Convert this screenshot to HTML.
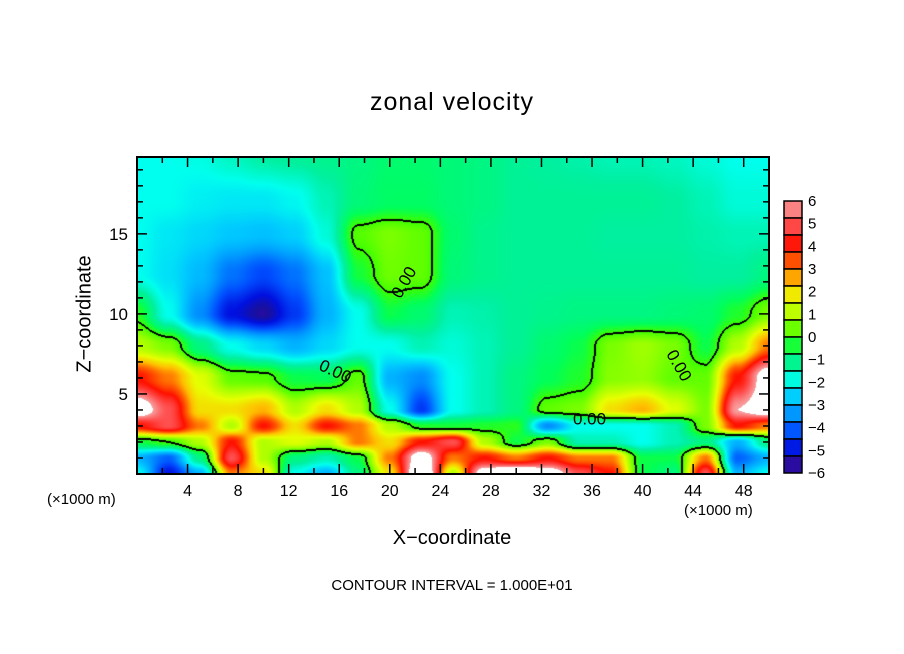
<!DOCTYPE html>
<html><head><meta charset="utf-8">
<style>
body{margin:0;background:#fff;width:904px;height:654px;overflow:hidden;position:relative;font-family:"Liberation Sans",sans-serif;}
.t{position:absolute;color:#000;white-space:nowrap;}
</style></head><body>
<div class="t" style="left:0;width:904px;top:88px;text-align:center;font-size:25px;letter-spacing:1px;">zonal velocity</div>
<div class="t" style="left:85px;top:314px;font-size:20px;transform:translate(-50%,-50%) rotate(-90deg);">Z−coordinate</div>
<div class="t" style="left:0;width:904px;top:527px;text-align:center;font-size:20px;">X−coordinate</div>
<div class="t" style="left:47px;top:491px;font-size:15px;">(×1000 m)</div>
<div class="t" style="left:684px;top:502px;font-size:15px;">(×1000 m)</div>
<div class="t" style="left:0;width:904px;top:577px;text-align:center;font-size:15px;">CONTOUR INTERVAL = 1.000E+01</div>
<canvas id="cv" width="632" height="317" style="position:absolute;left:137px;top:157px;"></canvas>
<svg id="sv" width="904" height="654" style="position:absolute;left:0;top:0;"></svg>
<script>
const xLevels=[0,2.5,5,7.5,10,12.5,15,17.5,20,22.5,25,27.5,30,32.5,35,37.5,40,42.5,45,47.5,50];
const zLevels=[20,17,15,12.5,10,8,6,4,3,2,1,0];
const field=[
[-2,-2,-1.9,-1.6,-1.3,-1.2,-1.1,-1,-0.8,-0.8,-0.9,-1,-1.2,-1.3,-1.4,-1.5,-1.5,-1.6,-1.8,-2,-2],
[-2,-2,-2.2,-2.3,-2.3,-2.1,-1.5,-0.9,-0.7,-0.7,-0.9,-1,-1.2,-1.2,-1.2,-1.2,-1.2,-1.3,-1.5,-1.8,-1.8],
[-2,-2.3,-2.5,-2.7,-2.8,-2.6,-1.8,0.2,0.5,0.3,-0.8,-1.1,-1.2,-1.2,-1.2,-1.3,-1.3,-1.3,-1.4,-1.5,-1.5],
[-2,-2.4,-2.9,-3.8,-4.3,-3.8,-2.8,-0.4,0.4,0.3,-0.9,-1.1,-1.2,-1.2,-1.2,-1.2,-1.2,-1.2,-1.3,-1.3,-1],
[-0.2,-2,-3.5,-5,-5.6,-4.5,-3,-2,-0.5,-0.8,-1.5,-1.4,-1.2,-1.1,-1,-1,-1,-0.9,-0.8,-0.3,0.5],
[1,0.5,-1,-2,-2.5,-3,-2.5,-2,-2,-1.5,-1.8,-1.5,-1.2,-0.8,-0.5,0.5,0.8,0.5,-0.5,1,3],
[4,3,1.5,0.3,0.2,-0.5,-0.6,0.3,-3,-3.5,-2,-1.5,-1,-0.6,-0.3,0.6,0.7,0.3,0.3,4,7],
[7,5,2,2,2.5,1,2,1,-2,-4.5,-2,-1.5,-1,0.3,0.5,2,2.5,1.5,0.5,6,7],
[4,5,3,1,4,2,4,3,1,-0.3,-0.4,-0.3,-0.2,-3.5,-2,-2,-2,-1.5,0.5,4,3],
[-0.5,0,1,4,1,1.5,1,3,2,4,5,1,-0.5,0.5,-1.5,-1.5,-2,-1.5,-1,-3,-1],
[-3,-4,-1,5,1,-1,-1.5,-0.5,3,7,3,4,3,4,3,3,-0.5,-0.5,3,-4,-3],
[-2,-5,-3,3,2,-2,-3,-1,2,8,1,7,8,7,5,4,-0.5,-1,5,-3,-2]
];
const cStops=[[-6,[96,0,160]],[-5.5,[24,16,160]],[-5,[0,16,224]],[-4.2,[0,80,255]],[-3.4,[0,150,255]],[-2.7,[0,200,255]],[-2,[0,255,238]],[-1.3,[0,240,160]],[-0.6,[0,255,90]],[0,[60,255,0]],[0.8,[160,255,0]],[1.6,[232,255,0]],[2.4,[255,192,0]],[3.2,[255,96,0]],[4,[255,16,0]],[5,[255,80,80]],[6,[248,160,160]]];
function cmap(v){
  if(v>6)return[255,255,255];
  if(v<=-6)return cStops[0][1];
  for(let i=1;i<cStops.length;i++){if(v<=cStops[i][0]){const a=cStops[i-1],b=cStops[i],t=(v-a[0])/(b[0]-a[0]);return a[1].map((c,k)=>c+(b[1][k]-c)*t);}}
  return cStops[cStops.length-1][1];
}
function seg(arr,v){for(let i=0;i<arr.length-1;i++){const a=arr[i],b=arr[i+1];if((v>=Math.min(a,b))&&(v<=Math.max(a,b))){return[i,(v-a)/(b-a)];}}return[arr.length-2,1];}
function val(x,z){
  const [i,tx]=seg(xLevels,x),[j,tz]=seg(zLevels,z);
  const sx=tx*tx*(3-2*tx),sz=tz*tz*(3-2*tz);
  const f=field;
  const a=f[j][i]*(1-sx)+f[j][i+1]*sx,b=f[j+1][i]*(1-sx)+f[j+1][i+1]*sx;
  return a*(1-sz)+b*sz;
}
const W=632,H=317,X0=0,X1=50,Z0=0,Z1=19.8;
const cv=document.getElementById('cv'),ctx=cv.getContext('2d');
const img=ctx.createImageData(W,H);const V=new Float32Array(W*H);
for(let py=0;py<H;py++)for(let px=0;px<W;px++){V[py*W+px]=val(X0+(px+0.5)/W*(X1-X0),Z1-(py+0.5)/H*(Z1-Z0));}
for(let py=0;py<H;py++)for(let px=0;px<W;px++){
  const v=V[py*W+px];let c=cmap(v);const s=v>=0;
  let edge=false;
  for(const [dx,dy] of [[-1,0],[1,0],[0,-1],[0,1]]){const qx=px+dx,qy=py+dy;if(qx<0||qy<0||qx>=W||qy>=H)continue;if((V[qy*W+qx]>=0)!==s){edge=true;break;}}
  if(edge)c=[0,0,0];
  const k=(py*W+px)*4;img.data[k]=c[0];img.data[k+1]=c[1];img.data[k+2]=c[2];img.data[k+3]=255;
}
ctx.putImageData(img,0,0);
const NS='http://www.w3.org/2000/svg',sv=document.getElementById('sv');
function mk(t,at){const e=document.createElementNS(NS,t);for(const k in at)e.setAttribute(k,at[k]);sv.appendChild(e);return e;}
const L=137,R=769,T=157,B=474;
const xs=x=>L+(x-X0)/(X1-X0)*(R-L), zs=z=>B-(z-Z0)/(Z1-Z0)*(B-T);
const xTicks=[4,8,12,16,20,24,28,32,36,40,44,48];
const zTicks=[5,10,15];
for(let x=2;x<50;x+=2){const e=mk('line',{x1:xs(x),x2:xs(x),y1:B,y2:B-(x%4==0?10:6),stroke:'#000','stroke-width':1.5});

mk('line',{x1:xs(x),x2:xs(x),y1:T,y2:T+(x%4==0?10:6),stroke:'#000','stroke-width':1.5});}
xTicks.forEach(x=>{const t=mk('text',{x:xs(x),y:496,'text-anchor':'middle','font-size':16,'font-family':'Liberation Sans'});t.textContent=x;
});
for(let z=1;z<20;z++){const big=z%5==0;mk('line',{x1:L,x2:L+(big?10:6),y1:zs(z),y2:zs(z),stroke:'#000','stroke-width':1.5});mk('line',{x1:R,x2:R-(big?10:6),y1:zs(z),y2:zs(z),stroke:'#000','stroke-width':1.5});}
zTicks.forEach(z=>{const t=mk('text',{x:128,y:zs(z)+6,'text-anchor':'end','font-size':17,'font-family':'Liberation Sans'});t.textContent=z;
});
const fr=mk('rect',{x:L,y:T,width:R-L,height:B-T,fill:'none',stroke:'#000','stroke-width':2});

[[15.5,6.1,25],[21.5,11.8,-60],[35.8,3.1,0],[42.5,6.6,60]].forEach(p=>{const t=mk('text',{x:xs(p[0]),y:zs(p[1]),'text-anchor':'middle','font-size':17,'font-family':'Liberation Sans',transform:`rotate(${p[2]} ${xs(p[0])} ${zs(p[1])})`});t.textContent='0.00';
});
const cbLevels=[6,5,4,3,2,1,0,-1,-2,-3,-4,-5,-6];
const nb=16,cT=201,cB=473,cL=784,cW=18;
for(let i=0;i<nb;i++){const v=6-(i+0.5)*12/nb;const c=cmap(v).map(Math.round);
const r=mk('rect',{x:cL,y:cT+i*(cB-cT)/nb,width:cW,height:(cB-cT)/nb,fill:`rgb(${c})`,stroke:'#000','stroke-width':1.5});
}
cbLevels.forEach((v,i)=>{const t=mk('text',{x:808,y:cT+(6-v)/12*(cB-cT)+5,'font-size':15,'font-family':'Liberation Sans'});t.textContent=v<0?'−'+(-v):v;
});
</script>
</body></html>
